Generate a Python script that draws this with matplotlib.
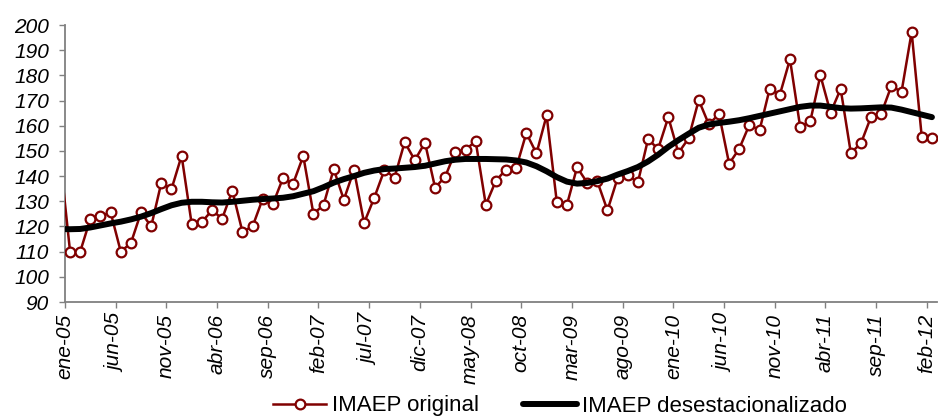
import matplotlib
matplotlib.use("Agg")
import matplotlib.pyplot as plt
import numpy as np

# monthly series, dic-04 .. feb-12 (first point sits just outside the axis)
imaep_original = [
    148.0, 110.0, 110.0, 123.0, 124.0, 125.6, 110.0, 113.4, 125.6, 120.0,
    137.4, 134.8, 148.1, 120.8, 121.8, 126.4, 123.1, 134.2, 117.9, 120.0,
    131.0, 128.9, 139.2, 137.0, 148.0, 125.0, 128.5, 142.8, 130.6, 142.4,
    121.4, 131.4, 142.4, 139.4, 153.5, 146.3, 153.3, 135.4, 139.8, 149.7,
    150.4, 153.9, 128.6, 138.2, 142.6, 143.3, 157.1, 149.0, 164.1, 129.8,
    128.6, 143.5, 137.4, 137.9, 126.4, 139.2, 140.3, 137.5, 154.6, 150.8,
    163.4, 149.2, 155.0, 170.2, 160.5, 164.7, 144.9, 150.9, 160.4, 158.2,
    174.7, 172.3, 186.4, 159.6, 161.7, 180.0, 165.2, 174.6, 149.2, 153.0,
    163.6, 164.8, 175.8, 173.4, 197.2, 155.4, 155.1,
]
imaep_desest = [
    119.0, 118.9, 119.0, 119.6, 120.4, 121.2, 121.9, 122.8, 123.9, 125.3,
    126.9, 128.4, 129.4, 129.8, 129.8, 129.6, 129.5, 129.8, 130.2, 130.6,
    130.9, 131.1, 131.4, 132.0, 133.0, 134.0, 135.6, 137.4, 138.8, 140.0,
    141.3, 142.2, 142.8, 143.0, 143.3, 143.6, 144.1, 145.0, 145.9, 146.5,
    146.8, 146.8, 146.8, 146.7, 146.6, 146.2, 145.4, 143.9, 141.9, 139.6,
    137.8, 137.0, 137.3, 138.0, 139.0, 140.6, 142.0, 143.6, 145.8, 148.5,
    151.6, 154.3, 156.8, 159.2, 160.5, 161.1, 161.6, 162.2, 163.0, 163.9,
    164.8, 165.7, 166.6, 167.5, 168.0, 168.0, 167.5, 167.0, 166.8, 166.9,
    167.1, 167.3, 167.2, 166.4, 165.4, 164.4, 163.4,
]
tick_labels = [
    "ene-05", "jun-05", "nov-05", "abr-06", "sep-06", "feb-07", "jul-07",
    "dic-07", "may-08", "oct-08", "mar-09", "ago-09", "ene-10", "jun-10",
    "nov-10", "abr-11", "sep-11", "feb-12",
]

plt.rcParams["font.family"] = ["Liberation Sans", "DejaVu Sans"]

fig = plt.figure(figsize=(9.42, 4.17), dpi=100)
ax = fig.add_axes([65 / 942, 1 - 302 / 417, (937 - 65) / 942, (302 - 25) / 417])

x = np.arange(len(imaep_original))
ax.plot(x, imaep_original, color="#800000", lw=1.8, marker="o", ms=7,
        markevery=list(range(1, len(x))),
        mfc="white", mec="#800000", mew=1.6, label="IMAEP original", zorder=3)
ax.plot(x, imaep_desest, color="black", lw=4.3, solid_capstyle="round",
        label="IMAEP desestacionalizado", zorder=4)

ax.set_xlim(0.5, 86.5)
ax.set_ylim(90, 200)
ax.set_yticks(range(90, 201, 10))
ax.set_xticks([0.5 + 5 * i for i in range(len(tick_labels))])
ax.set_xticklabels(tick_labels, rotation=90, style="italic", fontsize=15,
                   va="top", ha="center")
for lbl in ax.get_yticklabels():
    lbl.set_fontstyle("italic")
    lbl.set_fontsize(15)

for side in ("top", "right"):
    ax.spines[side].set_visible(False)
for side in ("left", "bottom"):
    ax.spines[side].set_color("#808080")
    ax.spines[side].set_linewidth(1.3)
ax.tick_params(axis="both", direction="out", length=4.5, width=1.0,
               color="#808080")
ax.tick_params(axis="y", pad=7)
ax.tick_params(axis="x", pad=4)

fig.legend(loc="center", bbox_to_anchor=(560 / 942, 11 / 417), ncol=2,
           frameon=False, fontsize=16, handlelength=2.4, handletextpad=0.25,
           columnspacing=2.0, borderaxespad=0)

fig.savefig("out.png", dpi=100)
